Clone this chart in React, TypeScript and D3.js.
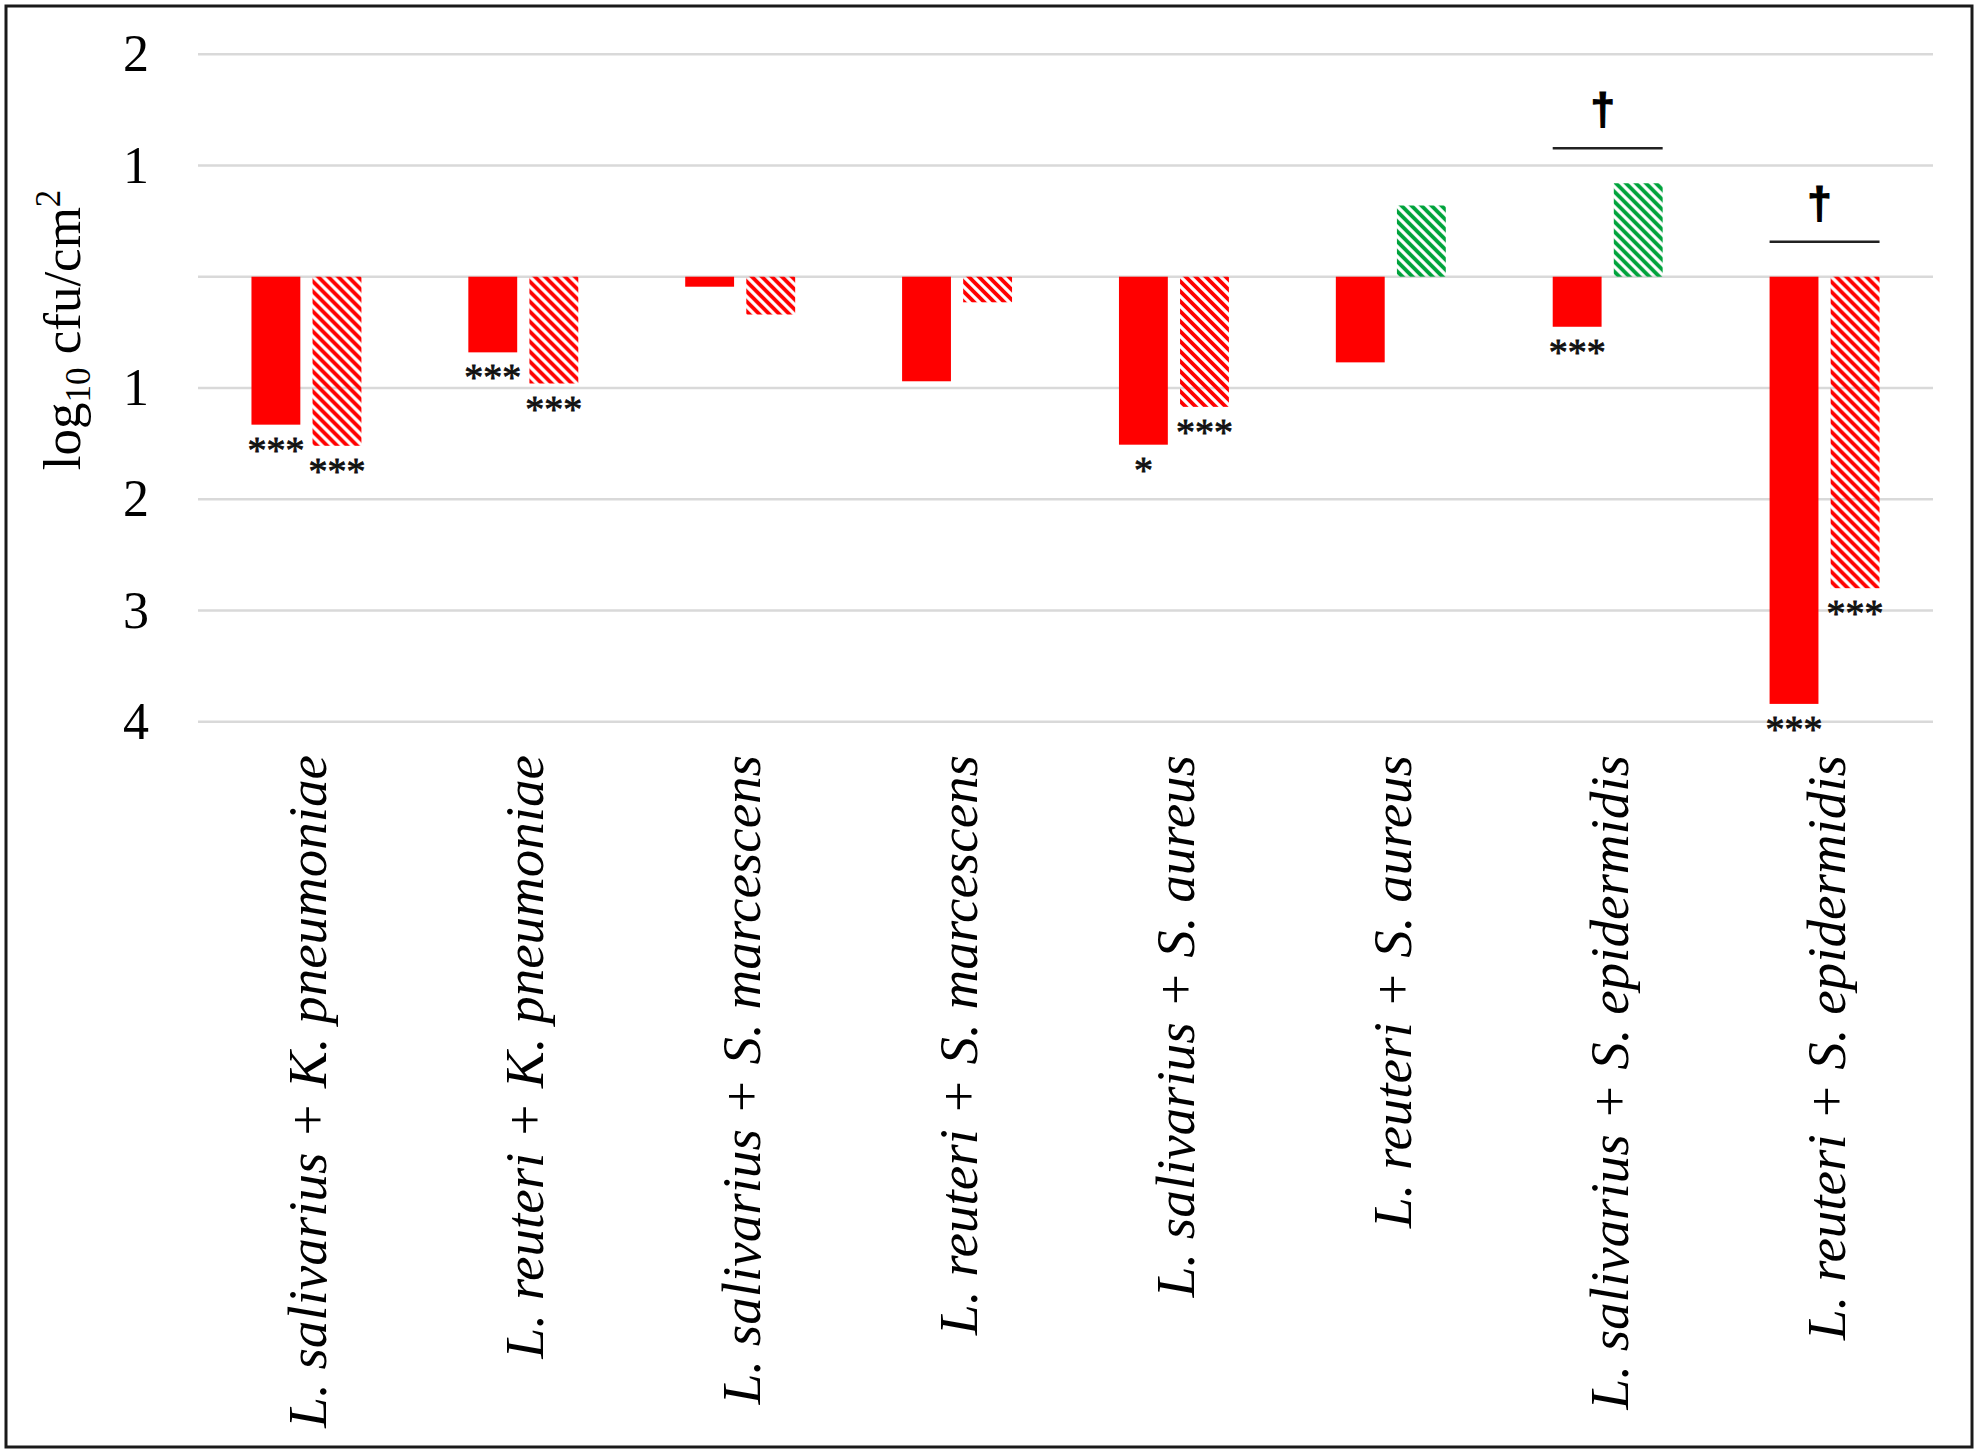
import React, { useEffect, useRef } from "react";
import * as d3 from "d3";

const categories = [
  "L. salivarius + K. pneumoniae",
  "L. reuteri + K. pneumoniae",
  "L. salivarius + S. marcescens",
  "L. reuteri + S. marcescens",
  "L. salivarius + S. aureus",
  "L. reuteri + S. aureus",
  "L. salivarius + S. epidermidis",
  "L. reuteri + S. epidermidis",
];
const solidValues = [-1.33, -0.68, -0.09, -0.94, -1.51, -0.77, -0.45, -3.84];
const hatchedValues = [-1.52, -0.96, -0.34, -0.23, -1.17, 0.64, 0.84, -2.8];
const solidStars = ["***", "***", "", "", "*", "", "***", "***"];
const hatchedStars = ["***", "***", "", "", "***", "", "", "***"];
const daggers = ["", "", "", "", "", "", "\u2020", "\u2020"];
const yTicks = [2, 1, 0, -1, -2, -3, -4];
const yTickLabels = ["2", "1", "", "1", "2", "3", "4"];

const W = 1979;
const H = 1454;
const plot = { left: 198, right: 1933, top: 54.2, bottom: 721.7 };
const RED = "#ff0000";
const GREEN = "#00a33c";
const FONT = "'Liberation Serif', 'Times New Roman', serif";

type Bar = { cat: string; key: string; value: number; stars: string };

export default function App() {
  const svgRef = useRef<SVGSVGElement | null>(null);

  useEffect(() => {
    const svg = d3.select(svgRef.current);
    svg.selectAll("*").remove();

    const defs = svg.append("defs");
    const hatch = (id: string, color: string) => {
      const p = defs
        .append("pattern")
        .attr("id", id)
        .attr("patternUnits", "userSpaceOnUse")
        .attr("width", 10)
        .attr("height", 10);
      p.append("path")
        .attr("d", "M-3,7 L3,13 M0,0 L10,10 M7,-3 L13,3")
        .attr("stroke", color)
        .attr("stroke-width", 3.8);
    };
    hatch("hatch-red", RED);
    hatch("hatch-green", GREEN);

    const x0 = d3
      .scaleBand<string>()
      .domain(categories)
      .range([plot.left, plot.right])
      .paddingInner(0.493)
      .paddingOuter(0.2465);
    const x1 = d3
      .scaleBand<string>()
      .domain(["solid", "hatched"])
      .range([0, x0.bandwidth()])
      .paddingInner(0.2);
    const y = d3.scaleLinear().domain([-4, 2]).range([plot.bottom, plot.top]);

    // border
    svg
      .append("rect")
      .attr("x", 6)
      .attr("y", 6)
      .attr("width", 1966)
      .attr("height", 1441)
      .attr("fill", "none")
      .attr("stroke", "#1a1a1a")
      .attr("stroke-width", 3);

    // gridlines
    svg
      .append("g")
      .selectAll("line")
      .data(yTicks)
      .enter()
      .append("line")
      .attr("x1", plot.left)
      .attr("x2", plot.right)
      .attr("y1", (d) => y(d))
      .attr("y2", (d) => y(d))
      .attr("stroke", "#d9d9d9")
      .attr("stroke-width", 2.5);

    // y tick labels
    svg
      .append("g")
      .selectAll("text")
      .data(yTicks)
      .enter()
      .append("text")
      .attr("x", 136)
      .attr("y", (d) => y(d))
      .attr("dy", "0.33em")
      .attr("text-anchor", "middle")
      .attr("font-family", FONT)
      .attr("font-size", 52)
      .attr("fill", "#000")
      .text((_, i) => yTickLabels[i]);

    // y title
    const title = svg
      .append("text")
      .attr("transform", `translate(80,${(y(2) + y(-4)) / 2 - 58}) rotate(-90)`)
      .attr("text-anchor", "middle")
      .attr("font-family", FONT)
      .attr("font-size", 53)
      .attr("fill", "#000");
    title.append("tspan").text("log");
    title.append("tspan").attr("font-size", 35).attr("dy", 10).text("10");
    title.append("tspan").attr("dy", -10).text(" cfu/cm");
    title.append("tspan").attr("font-size", 35).attr("dy", -20).text("2");

    const bars: Bar[][] = categories.map((c, i) => [
      { cat: c, key: "solid", value: solidValues[i], stars: solidStars[i] },
      { cat: c, key: "hatched", value: hatchedValues[i], stars: hatchedStars[i] },
    ]);

    const groups = svg
      .append("g")
      .selectAll("g")
      .data(bars)
      .enter()
      .append("g")
      .attr("transform", (d) => `translate(${x0(d[0].cat)},0)`);

    groups
      .selectAll("rect")
      .data((d) => d)
      .enter()
      .append("rect")
      .attr("x", (d) => x1(d.key)!)
      .attr("width", x1.bandwidth())
      .attr("y", (d) => y(Math.max(0, d.value)))
      .attr("height", (d) => Math.abs(y(d.value) - y(0)))
      .attr("fill", (d) =>
        d.key === "solid" ? RED : d.value >= 0 ? "url(#hatch-green)" : "url(#hatch-red)"
      );

    // significance stars below bars
    groups
      .selectAll("text.stars")
      .data((d) => d.filter((b) => b.stars))
      .enter()
      .append("text")
      .attr("class", "stars")
      .attr("x", (d) => x1(d.key)! + x1.bandwidth() / 2)
      .attr("y", (d) => y(d.value) + 38)
      .attr("text-anchor", "middle")
      .attr("font-family", FONT)
      .attr("font-size", 38)
      .attr("fill", "#111")
      .attr("stroke", "#111")
      .attr("stroke-width", 0.8)
      .text((d) => d.stars);

    // dagger brackets
    const marked = bars.filter((_, i) => daggers[i]);
    const bracket = svg
      .append("g")
      .selectAll("g")
      .data(marked)
      .enter()
      .append("g")
      .attr("transform", (d) => `translate(${x0(d[0].cat)},0)`);
    const bracketY = (d: Bar[]) => y(Math.max(0, d[0].value, d[1].value)) - 35;
    bracket
      .append("line")
      .attr("x1", 0)
      .attr("x2", x0.bandwidth())
      .attr("y1", bracketY)
      .attr("y2", bracketY)
      .attr("stroke", "#222")
      .attr("stroke-width", 2.5);
    bracket
      .append("text")
      .attr("x", x0.bandwidth() / 2 - 5)
      .attr("y", (d) => bracketY(d) - 24)
      .attr("text-anchor", "middle")
      .attr("font-family", "'Liberation Sans', Arial, sans-serif")
      .attr("font-weight", "bold")
      .attr("font-size", 44)
      .attr("fill", "#000")
      .attr("stroke", "#000")
      .attr("stroke-width", 1.2)
      .text((d) => daggers[categories.indexOf(d[0].cat)]);

    // category labels
    svg
      .append("g")
      .selectAll("text")
      .data(categories)
      .enter()
      .append("text")
      .attr(
        "transform",
        (d) => `translate(${x0(d)! + x0.bandwidth() / 2 + 20},755) rotate(-90)`
      )
      .attr("text-anchor", "end")
      .attr("font-family", FONT)
      .attr("font-style", "italic")
      .attr("font-size", 55)
      .attr("fill", "#000")
      .text((d) => d);
  }, []);

  return (
    <>
      <style>{`body{margin:0;background:#fff}`}</style>
      <svg ref={svgRef} width={W} height={H} style={{ display: "block", background: "#fff" }} />
    </>
  );
}
